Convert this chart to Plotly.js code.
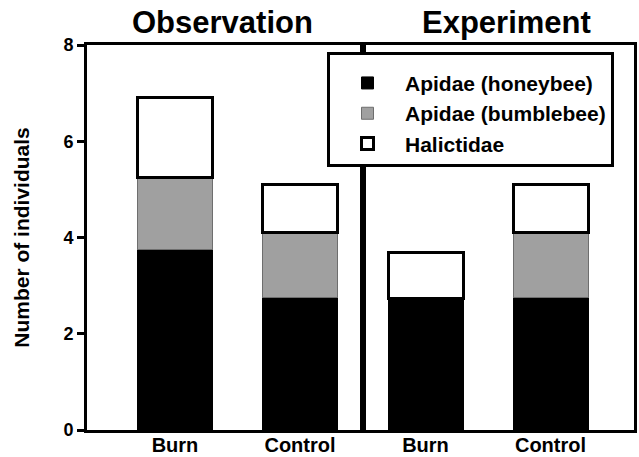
<!DOCTYPE html>
<html>
<head>
<meta charset="utf-8">
<script src="https://cdn.plot.ly/plotly-3.0.1.min.js"></script>
<style>html,body{margin:0;padding:0;background:#fff;}#chart{width:639px;height:457px;}</style>
</head>
<body>
<div id="chart"></div>
<script>
// ---- data ----
const categories = ['Burn', 'Control'];
const seriesNames = ['Apidae (honeybee)', 'Apidae (bumblebee)', 'Halictidae'];
const panelTitles = ['Observation', 'Experiment'];
const obsHoneybee = [3.75, 2.75];
const obsBumblebee = [1.5, 1.35];
const obsHalictidae = [1.65, 1.0];
const expHoneybee = [2.73, 2.75];
const expBumblebee = [0, 1.35];
const expHalictidae = [0.96, 1.0];
const yTicks = [0, 2, 4, 6, 8];

const FONT = 'Liberation Sans, Arial, sans-serif';
const styles = [
  {color: '#000000', line: {color: '#000000', width: 1}},
  {color: '#a0a0a0', line: {color: '#6e6e6e', width: 1}},
  {color: '#ffffff', line: {color: '#000000', width: 3}}
];
const panels = [
  {vals: [obsHoneybee, obsBumblebee, obsHalictidae], x: 'x', y: 'y', legend: true},
  {vals: [expHoneybee, expBumblebee, expHalictidae], x: 'x2', y: 'y2', legend: false}
];
const traces = [];
panels.forEach(p => {
  p.vals.forEach((v, i) => {
    traces.push({
      type: 'bar', x: categories, y: v, name: seriesNames[i],
      xaxis: p.x, yaxis: p.y, showlegend: p.legend, legendgroup: seriesNames[i],
      marker: {color: styles[i].color, line: styles[i].line},
      hoverinfo: 'skip'
    });
  });
});

const split = 276 / 547;
const axisLine = {showline: true, linecolor: '#000', linewidth: 3, mirror: true, zeroline: false, showgrid: false};
const xTickFont = {size: 20, family: FONT, weight: 'bold'};
const layout = {
  width: 639, height: 457,
  margin: {l: 87, r: 5, t: 45, b: 27},
  paper_bgcolor: '#fff', plot_bgcolor: '#fff',
  barmode: 'stack', bargap: 0.4,
  font: {family: FONT, color: '#000', weight: 'bold'},
  xaxis: Object.assign({}, axisLine, {domain: [0, split], type: 'category', range: [-0.704, 1.504],
    ticks: '', tickfont: xTickFont, ticklabelstandoff: -5, fixedrange: true}),
  xaxis2: Object.assign({}, axisLine, {domain: [split, 1], type: 'category', range: [-0.5, 1.668],
    ticks: '', tickfont: xTickFont, ticklabelstandoff: -5, anchor: 'y2', fixedrange: true}),
  yaxis: Object.assign({}, axisLine, {range: [0, 8], tickvals: yTicks, ticks: 'outside', ticklen: 7, tickwidth: 3,
    tickcolor: '#000', tickfont: {size: 18, family: FONT, weight: 'bold'}, mirror: true,
    title: {text: 'Number of individuals', font: {size: 21, family: FONT, weight: 'bold'}, standoff: 29}}),
  yaxis2: Object.assign({}, axisLine, {range: [0, 8], matches: 'y', anchor: 'x2', showticklabels: false, ticks: ''}),
  legend: {
    x: (327 - 87) / 547, y: (430 - 52) / 385, xanchor: 'left', yanchor: 'top',
    bgcolor: '#fff', bordercolor: '#000', borderwidth: 3, traceorder: 'normal',
    title: {text: ' ', font: {size: 6}},
    font: {size: 21, family: FONT, weight: 'bold'}, itemwidth: 65
  },
  annotations: [
    {text: panelTitles[0], xref: 'paper', yref: 'paper', x: (222 - 87) / 547, y: 1 + (45 - 22) / 385,
      xanchor: 'center', yanchor: 'middle', showarrow: false, font: {size: 31, family: FONT, weight: 'bold'}},
    {text: panelTitles[1], xref: 'paper', yref: 'paper', x: (506 - 87) / 547, y: 1 + (45 - 22) / 385,
      xanchor: 'center', yanchor: 'middle', showarrow: false, font: {size: 31, family: FONT, weight: 'bold'}}
  ]
};
Plotly.newPlot('chart', traces, layout, {displayModeBar: false, staticPlot: true});
</script>
</body>
</html>
